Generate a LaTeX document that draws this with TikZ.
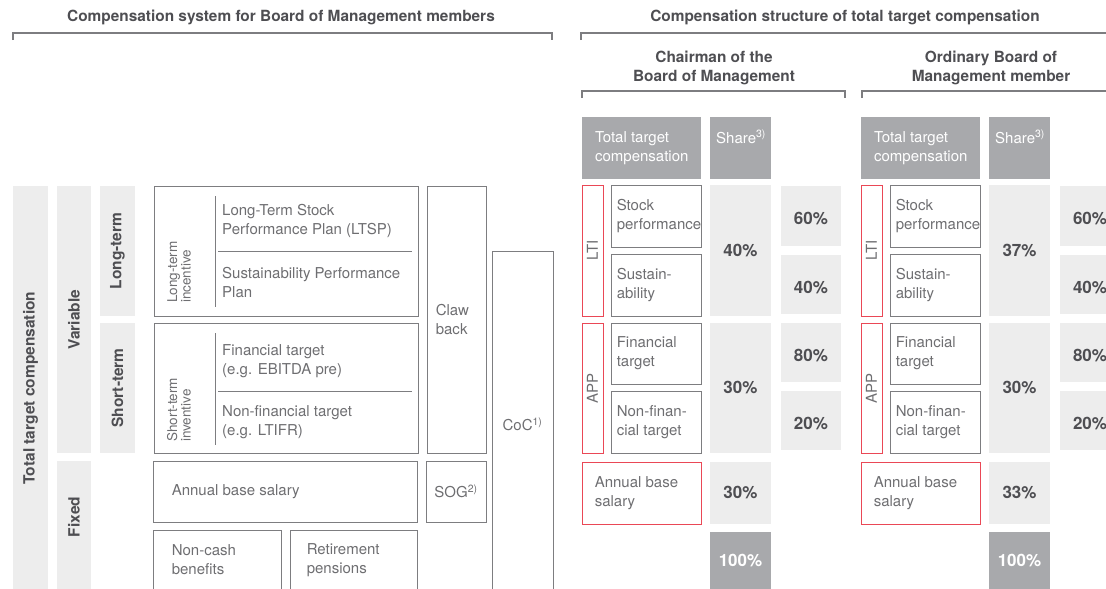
\documentclass[tikz,border=0pt]{standalone}
\usepackage{fontspec}
\setmainfont{TeX Gyre Heros}
\usetikzlibrary{fit}

\definecolor{cLight}{RGB}{237,237,237}
\definecolor{cDark}{RGB}{168,169,172}
\definecolor{cLine}{RGB}{125,125,128}
\definecolor{cText}{RGB}{110,110,113}
\definecolor{cBold}{RGB}{78,78,82}
\definecolor{cRed}{RGB}{234,72,86}

\begin{document}
\begin{tikzpicture}[x=1pt,y=-1pt,
	greybar/.style={fill=cLight,inner sep=0pt},
	darkbar/.style={fill=cDark,inner sep=0pt},
	outbox/.style={draw=cLine,line width=0.9pt,inner sep=0pt},
	redbox/.style={draw=cRed,line width=0.9pt,inner sep=0pt},
	brk/.style={draw=cLine,line width=1.1pt},
	lbl/.style={text=cText,align=left,anchor=west,inner sep=0pt,font=\fontsize{15}{19}\selectfont},
	hdr/.style={text=cBold,align=center,inner sep=0pt,font=\bfseries\fontsize{15.4}{19}\selectfont},
	vlab/.style={rotate=90,text=cBold,inner sep=0pt,font=\bfseries\fontsize{15.5}{18}\selectfont},
	pct/.style={text=cBold,inner sep=0pt,font=\bfseries\fontsize{17}{19}\selectfont}]
	\useasboundingbox (0,0) rectangle (1106,589);
	\clip (0,0) rectangle (1106,589);

	% titles and brackets
	\node[hdr] (sysT) at (281,17) {Compensation system for Board of Management members};
	\node[hdr] (strT) at (845,17) {Compensation structure of total target compensation};
	\node[hdr] (chairT) at (714,67.5) {Chairman of the\\Board of Management};
	\node[hdr] (ordT) at (991,67.5) {Ordinary Board of\\Management member};
	\draw[brk] (13,40) -- (13,33) -- (552,33) -- (552,40);
	\draw[brk] (581,40) -- (581,33) -- (1110,33);
	\draw[brk] (582,98) -- (582,91) -- (845,91) -- (845,98);
	\draw[brk] (862,98) -- (862,91) -- (1110,91);

	% left: grey category bars
	\node[greybar,fit={(13,186) (48,590)}] (ttc) {};
	\node[greybar,fit={(57,186) (91,453)}] (var) {};
	\node[greybar,fit={(57,461) (91,590)}] (fix) {};
	\node[greybar,fit={(100,186) (135,316)}] (lt) {};
	\node[greybar,fit={(100,323) (135,453)}] (st) {};
	\node[vlab] (ttcT) at (ttc) {Total target compensation};
	\node[vlab] (varT) at (var) {Variable};
	\node[vlab] (fixT) at (74,517) {Fixed};
	\node[vlab] (ltT) at (lt) {Long-term};
	\node[vlab] (stT) at (st) {Short-term};

	% left: incentive boxes
	\node[outbox,fit={(154,186) (418,316)}] (lti) {};
	\node[outbox,fit={(154,323) (418,453)}] (sti) {};
	\draw[cLine,line width=0.9pt] (215,196) -- (215,307);
	\draw[cLine,line width=0.9pt] (218,251) -- (412,251);
	\draw[cLine,line width=0.9pt] (215,333) -- (215,445);
	\draw[cLine,line width=0.9pt] (218,391) -- (412,391);
	\node[lbl,rotate=90,font=\fontsize{13.5}{13.5}\selectfont] (ltiT) at (179,303) {Long-term\\incentive};
	\node[lbl,rotate=90,font=\fontsize{13.5}{13.5}\selectfont] (stiT) at (179,442) {Short-term\\inventive};
	\node[lbl] (ltspT) at (222,221) {Long-Term Stock\\Performance Plan (LTSP)};
	\node[lbl] (sppT) at (222,283) {Sustainability Performance\\Plan};
	\node[lbl] (finT) at (222,361.5) {Financial target\\(e.g. EBITDA pre)};
	\node[lbl] (nfinT) at (222,422.5) {Non-financial target\\(e.g. LTIFR)};

	% left: other elements
	\node[outbox,fit={(427,186) (486,453)}] (claw) {};
	\node[outbox,fit={(492,251) (553,597)}] (coc) {};
	\node[outbox,fit={(153,461) (417,522)}] (absL) {};
	\node[outbox,fit={(426,461) (486,522)}] (sog) {};
	\node[outbox,fit={(153,530) (281,590)}] (ncb) {};
	\node[outbox,fit={(290,530) (417,590)}] (ret) {};
	\node[lbl] (clawT) at ([xshift=9]claw.west) {Claw\\back};
	\node[lbl,anchor=center] (cocT) at (coc) {CoC\textsuperscript{1)}};
	\node[lbl] (absLT) at ([xshift=19]absL.west) {Annual base salary};
	\node[lbl,anchor=center] (sogT) at (sog) {SOG\textsuperscript{2)}};
	\node[lbl] (ncbT) at ([xshift=19]ncb.west) {Non-cash\\benefits};
	\node[lbl] (retT) at ([xshift=17]ret.west) {Retirement\\pensions};

	% right: one block per board position
	\foreach \ox/\lp/\bp/\n in {0/40/30/c,279/37/33/o}{
		\node[darkbar,fit={(582+\ox,117) (701+\ox,179)}] (tt\n) {};
		\node[darkbar,fit={(710+\ox,117) (771+\ox,179)}] (sh\n) {};
		\node[lbl,text=white] (ttT\n) at ([xshift=13]tt\n.west) {Total target\\compensation};
		\node[lbl,text=white,anchor=base west] (shT\n) at (716+\ox,143) {Share\textsuperscript{3)}};

		\node[redbox,fit={(582+\ox,185) (603+\ox,316)}] (lti\n) {};
		\node[redbox,fit={(582+\ox,323) (603+\ox,453)}] (app\n) {};
		\node[lbl,rotate=90,anchor=center] (ltiT\n) at (lti\n) {LTI};
		\node[lbl,rotate=90,anchor=center] (appT\n) at (app\n) {APP};

		\node[outbox,fit={(611+\ox,185) (701+\ox,247)}] (stk\n) {};
		\node[outbox,fit={(611+\ox,254) (701+\ox,316)}] (sus\n) {};
		\node[outbox,fit={(611+\ox,323) (701+\ox,384)}] (fin\n) {};
		\node[outbox,fit={(611+\ox,391) (701+\ox,453)}] (nfin\n) {};
		\node[lbl] (stkT\n) at ([xshift=6]stk\n.west) {Stock\\performance};
		\node[lbl] (susT\n) at ([xshift=6]sus\n.west) {Sustain-\\ability};
		\node[lbl] (finT\n) at ([xshift=6]fin\n.west) {Financial\\target};
		\node[lbl] (nfinT\n) at ([xshift=6]nfin\n.west) {Non-finan-\\cial target};

		\node[greybar,fit={(710+\ox,185) (771+\ox,316)}] (lts\n) {};
		\node[greybar,fit={(710+\ox,323) (771+\ox,453)}] (aps\n) {};
		\node[greybar,fit={(781+\ox,186) (841+\ox,246)}] (s60\n) {};
		\node[greybar,fit={(781+\ox,255) (841+\ox,314)}] (s40\n) {};
		\node[greybar,fit={(781+\ox,323) (841+\ox,382)}] (s80\n) {};
		\node[greybar,fit={(781+\ox,391) (841+\ox,450)}] (s20\n) {};
		\node[pct] (ltsT\n) at (lts\n) {\lp\%};
		\node[pct] (apsT\n) at (aps\n) {30\%};
		\node[pct] (s60T\n) at ([yshift=-3]s60\n.center) {60\%};
		\node[pct] (s40T\n) at ([yshift=-3]s40\n.center) {40\%};
		\node[pct] (s80T\n) at ([yshift=-3]s80\n.center) {80\%};
		\node[pct] (s20T\n) at ([yshift=-3]s20\n.center) {20\%};

		\node[redbox,fit={(582+\ox,462) (701+\ox,524)}] (abs\n) {};
		\node[greybar,fit={(710+\ox,462) (771+\ox,524)}] (abss\n) {};
		\node[darkbar,fit={(710+\ox,532) (771+\ox,590)}] (tot\n) {};
		\node[lbl] (absT\n) at ([xshift=13]abs\n.west) {Annual base\\salary};
		\node[pct] (abssT\n) at (abss\n) {\bp\%};
		\node[pct,text=white] (totT\n) at (tot\n) {100\%};
	}
\end{tikzpicture}
\end{document}
